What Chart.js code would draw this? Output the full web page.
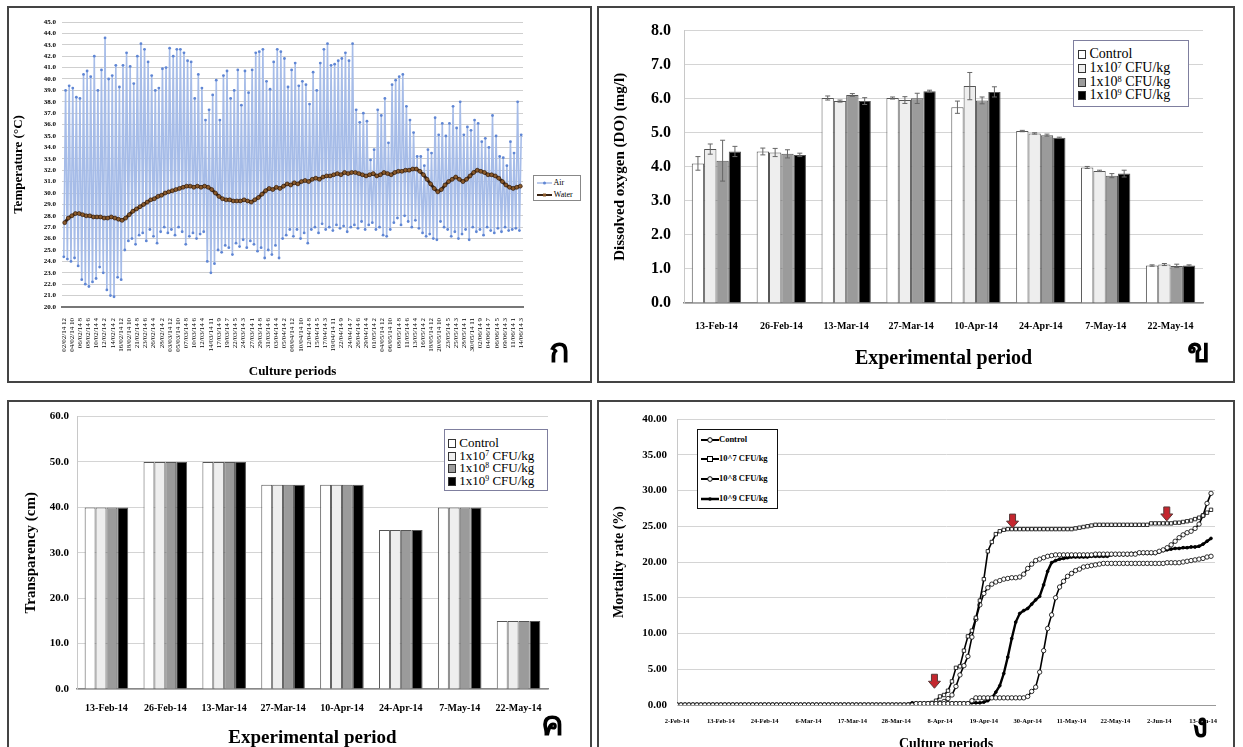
<!DOCTYPE html>
<html>
<head>
<meta charset="utf-8">
<script src="https://cdn.jsdelivr.net/npm/chart.js@4.4.0/dist/chart.umd.min.js"></script>
<style>
  body { margin: 0; background: #fff; width: 1243px; height: 747px; overflow: hidden; position: relative; font-family: "Liberation Serif", serif; }
  .panel { position: absolute; border: 2px solid #444; box-sizing: border-box; overflow: hidden; background: #fff; }
  .panel canvas { position: absolute; left: 0; top: 0; }
  .thai { position: absolute; font-family: "Noto Sans", "DejaVu Sans", sans-serif; font-weight: bold; line-height: 1; color: #000; }
  .legend { position: absolute; background: #fff; box-sizing: border-box; }
  .legend .row { position: absolute; left: 0; white-space: nowrap; line-height: 1; }
  .legend .sq { display: inline-block; border: 1px solid #333; box-sizing: border-box; vertical-align: -1px; }
  .legend sup { font-size: 60%; line-height: 0; vertical-align: 0.5em; }
</style>
</head>
<body>

<div class="panel" style="left:7px;top:6px;width:585px;height:377px;">
  <canvas id="cTemp" width="581" height="373"></canvas>
</div>
<div class="panel" style="left:597px;top:6px;width:638px;height:377px;">
  <canvas id="cDO" width="634" height="373"></canvas>
</div>
<div class="panel" style="left:7px;top:400px;width:585px;height:360px;">
  <canvas id="cTrans" width="581" height="356"></canvas>
</div>
<div class="panel" style="left:597px;top:400px;width:638px;height:360px;">
  <canvas id="cMort" width="634" height="356"></canvas>
</div>

<!-- legends -->
<div class="legend" style="left:533px;top:175px;width:48px;height:26px;border:1px solid #888;font-size:8px;">
  <div class="row" style="top:3px;left:3px;"><svg width="15" height="6" style="vertical-align:middle"><line x1="0" y1="3" x2="15" y2="3" stroke="#8fa9e0" stroke-width="1.2"/><circle cx="7.5" cy="3" r="1.5" fill="#5f86d4"/></svg> Air</div>
  <div class="row" style="top:15px;left:3px;"><svg width="15" height="6" style="vertical-align:middle"><line x1="0" y1="3" x2="15" y2="3" stroke="#3a2312" stroke-width="2"/><rect x="6" y="1.5" width="3" height="3" fill="#8a5a2b"/></svg> Water</div>
</div>

<div class="legend" style="left:1073px;top:40px;width:116px;height:67px;border:1px solid #7f7f9f;font-size:14px;">
  <div class="row" style="top:6px;left:4px;"><span class="sq" style="width:8px;height:9px;background:#fff;"></span> Control</div>
  <div class="row" style="top:20px;left:4px;"><span class="sq" style="width:8px;height:9px;background:#eee;"></span> 1x10<sup>7</sup> CFU/kg</div>
  <div class="row" style="top:34px;left:4px;"><span class="sq" style="width:8px;height:9px;background:#9b9b9b;"></span> 1x10<sup>8</sup> CFU/kg</div>
  <div class="row" style="top:47px;left:4px;"><span class="sq" style="width:8px;height:9px;background:#000;"></span> 1x10<sup>9</sup> CFU/kg</div>
</div>

<div class="legend" style="left:444px;top:429px;width:104px;height:62px;border:1px solid #7f7f9f;font-size:13px;">
  <div class="row" style="top:6px;left:3px;"><span class="sq" style="width:8px;height:9px;background:#fff;"></span> Control</div>
  <div class="row" style="top:19px;left:3px;"><span class="sq" style="width:8px;height:9px;background:#eee;"></span> 1x10<sup>7</sup> CFU/kg</div>
  <div class="row" style="top:31px;left:3px;"><span class="sq" style="width:8px;height:9px;background:#9b9b9b;"></span> 1x10<sup>8</sup> CFU/kg</div>
  <div class="row" style="top:44px;left:3px;"><span class="sq" style="width:8px;height:9px;background:#000;"></span> 1x10<sup>9</sup> CFU/kg</div>
</div>

<div class="legend" style="left:697px;top:429px;width:81px;height:80px;border:1.5px solid #111;font-size:8.5px;font-weight:bold;">
  <div class="row" style="top:5px;left:3px;"><svg width="18" height="8" style="vertical-align:middle"><line x1="0" y1="4" x2="18" y2="4" stroke="#000" stroke-width="2"/><circle cx="9" cy="4" r="2.3" fill="#fff" stroke="#000"/></svg>Control</div>
  <div class="row" style="top:24px;left:3px;"><svg width="18" height="8" style="vertical-align:middle"><line x1="0" y1="4" x2="18" y2="4" stroke="#000" stroke-width="2"/><rect x="6.5" y="1.5" width="5" height="5" fill="#fff" stroke="#000"/></svg>10^7 CFU/kg</div>
  <div class="row" style="top:44px;left:3px;"><svg width="18" height="8" style="vertical-align:middle"><line x1="0" y1="4" x2="18" y2="4" stroke="#000" stroke-width="2"/><circle cx="9" cy="4" r="2.3" fill="#fff" stroke="#000"/></svg>10^8 CFU/kg</div>
  <div class="row" style="top:64px;left:3px;"><svg width="18" height="8" style="vertical-align:middle"><line x1="0" y1="4" x2="18" y2="4" stroke="#000" stroke-width="2.5"/><circle cx="9" cy="4" r="1.8" fill="#000"/></svg>10^9 CFU/kg</div>
</div>

<span class="thai" style="left:549px;top:332px;font-size:34px;">ก</span>
<span class="thai" style="left:1187px;top:332px;font-size:34px;">ข</span>
<span class="thai" style="left:541px;top:705px;font-size:34px;">ค</span>
<span class="thai" style="left:1192px;top:708px;font-size:33px;">ง</span>

<script>
// ---- panel ก : air / water temperature ----
const tempTicks = [
  "02/02/14 12", "04/02/14 10", "06/02/14 8", "08/02/14 6", "10/02/14 4", "12/02/14 2", "14/02/14 2",
  "16/02/14 12", "18/02/14 10", "21/02/14 8", "23/02/14 6", "26/02/14 4", "28/02/14 2", "03/03/14 12",
  "05/03/14 10", "07/03/14 8", "10/03/14 6", "12/03/14 4", "14/03/14 11", "17/03/14 9", "19/03/14 7",
  "22/03/14 5", "24/03/14 3", "27/03/14 1", "29/03/14 8", "31/03/14 6", "03/04/14 4", "05/04/14 2",
  "08/04/14 12", "10/04/14 10", "12/04/14 8", "15/04/14 5", "17/04/14 3", "19/04/14 11", "22/04/14 9",
  "24/04/14 7", "26/04/14 6", "29/04/14 4", "01/05/14 2", "04/05/14 12", "06/05/14 10", "08/05/14 8",
  "11/05/14 6", "13/05/14 4", "16/05/14 2", "18/05/14 12", "20/05/14 10", "23/05/14 5", "25/05/14 3",
  "28/05/14 1", "30/05/14 11", "02/06/14 9", "04/06/14 7", "06/06/14 5", "09/06/14 3", "11/06/14 1",
  "14/06/14 3"
];

// daily highs of air temperature
const airMax = [
  39.0, 39.4, 39.2, 38.4, 38.3, 40.4, 40.7, 40.2, 42.0, 39.0, 40.8, 43.6, 40.0, 40.3, 41.2, 39.3,
  41.2, 42.3, 41.1, 39.6, 42.0, 43.1, 42.6, 41.5, 40.3, 39.0, 39.2, 40.9, 41.0, 42.7, 42.0, 42.6,
  42.6, 42.3, 41.6, 41.5, 38.3, 40.4, 39.2, 36.4, 37.3,
  38.6, 39.9, 36.4, 40.3, 40.7, 38.3, 39.0, 40.8, 37.7, 40.7, 38.8, 40.8, 42.3, 42.4, 42.6, 39.8,
  39.1, 41.5, 42.6, 42.4, 41.8, 39.3, 40.8, 41.4, 39.4, 39.8, 39.5, 37.8, 40.6, 39.0, 41.4, 42.6,
  43.1, 41.2, 41.3, 41.6, 41.8, 42.3, 41.6, 43.1,
  37.3, 36.2, 37.0, 36.3, 32.9, 33.8, 37.3, 36.8, 38.3, 34.4, 39.5, 39.9, 40.2, 40.4, 37.6, 36.4,
  35.3, 33.2, 33.2, 32.4, 33.8, 33.5, 36.6, 35.1, 36.1, 35.0, 36.1, 37.6, 35.7, 38.0, 35.1, 35.8,
  35.5, 36.4, 36.1, 34.5, 34.8, 34.0, 36.8, 35.0, 33.2, 33.1, 32.4, 34.5, 33.5, 38.0, 35.1
];

// daily lows of air temperature
const airMin = [
  24.4, 24.2, 24.0, 24.3, 23.6, 22.4, 22.0, 21.8, 22.2, 22.5, 23.5, 23.0, 21.5, 21.0, 20.9, 22.6,
  22.4, 25.0, 25.8, 26.0, 25.5, 26.3, 26.5, 25.8, 26.8, 26.2, 25.6, 26.6, 27.0, 26.5, 26.8, 26.3,
  27.0, 26.6, 25.5, 26.2, 26.5, 26.0, 26.4, 26.6, 24.0, 23.0, 23.8, 25.0, 24.8, 25.4, 25.2, 24.6,
  25.6, 25.3, 25.9, 25.2, 25.8, 25.5, 24.9, 25.2, 24.3, 25.0, 24.6, 25.4, 24.3, 26.0, 26.3, 26.8,
  26.2, 26.8, 26.0, 26.5, 25.6, 26.8, 27.0, 26.5, 27.3, 26.8, 27.0, 26.7, 27.2, 26.9, 27.1, 26.6,
  27.0, 27.2, 26.9, 27.5, 26.8, 27.2, 27.4, 26.8, 27.0, 26.3, 26.2, 26.8, 27.4, 27.8, 27.2, 28.0,
  27.5, 27.0, 27.6, 26.9, 26.5, 26.2, 26.4, 26.0, 25.9, 27.5, 27.0, 26.8, 26.2, 26.6, 26.0, 26.4,
  26.8, 25.9, 27.0, 26.6, 26.8, 26.3, 27.0, 26.7, 26.5, 26.9, 26.6, 27.0, 26.7, 26.8, 26.9, 26.7
];

// daily water temperature
const water = [
  27.4, 27.8, 28.0, 28.2, 28.2, 28.1, 28.0, 28.0, 27.9, 27.9,
  27.9, 27.8, 27.8, 27.9, 27.8, 27.7, 27.6, 27.8, 28.1, 28.4,
  28.6, 28.8, 29.0, 29.2, 29.4, 29.5, 29.7, 29.8, 30.0, 30.1,
  30.2, 30.3, 30.4, 30.5, 30.6, 30.6, 30.5, 30.6, 30.5, 30.6,
  30.5, 30.3, 30.0, 29.7, 29.5, 29.4, 29.4, 29.3, 29.3, 29.3,
  29.4, 29.3, 29.2, 29.4, 29.6, 29.9, 30.2, 30.4, 30.3, 30.5,
  30.4, 30.6, 30.8, 30.7, 30.9, 30.8, 31.0, 31.1, 31.0, 31.2,
  31.3, 31.2, 31.4, 31.5, 31.5, 31.6, 31.7, 31.6, 31.8, 31.7,
  31.8, 31.8, 31.7, 31.6, 31.5, 31.6, 31.7, 31.5, 31.6, 31.8,
  31.7, 31.6, 31.8, 31.9, 31.9, 32.0, 32.0, 32.1, 32.1, 31.9,
  31.6, 31.2, 30.8, 30.4, 30.1, 30.3, 30.7, 31.0, 31.2, 31.4,
  31.2, 31.0, 31.2, 31.5, 31.8, 32.0, 31.9, 31.8, 31.6, 31.6,
  31.5, 31.3, 31.0, 30.7, 30.5, 30.4, 30.5, 30.6
];

// ---- panels ข / ค : sampling dates ----
const periods = ["13-Feb-14", "26-Feb-14", "13-Mar-14", "27-Mar-14", "10-Apr-14", "24-Apr-14", "7-May-14", "22-May-14"];
const groupNames = ["Control", "1x10⁷ CFU/kg", "1x10⁸ CFU/kg", "1x10⁹ CFU/kg"];
const groupColors = ["#ffffff", "#eeeeee", "#9b9b9b", "#000000"];

const doControl = [4.10, 4.45, 6.02, 6.02, 5.75, 5.05, 3.98, 1.10];
const doE7      = [4.52, 4.42, 5.93, 5.96, 6.37, 4.98, 3.88, 1.13];
const doE8      = [4.18, 4.38, 6.11, 6.01, 5.95, 4.93, 3.74, 1.09];
const doE9      = [4.45, 4.35, 5.93, 6.22, 6.20, 4.85, 3.80, 1.10];
const doSdControl = [0.20, 0.10, 0.06, 0.03, 0.18, 0.02, 0.03, 0.02];
const doSdE7      = [0.15, 0.12, 0.03, 0.10, 0.40, 0.02, 0.02, 0.03];
const doSdE8      = [0.60, 0.12, 0.04, 0.15, 0.10, 0.03, 0.06, 0.05];
const doSdE9      = [0.15, 0.05, 0.10, 0.03, 0.15, 0.02, 0.10, 0.02];

const trControl = [40, 50, 50, 45, 45, 35, 40, 15];
const trE7      = [40, 50, 50, 45, 45, 35, 40, 15];
const trE8      = [40, 50, 50, 45, 45, 35, 40, 15];
const trE9      = [40, 50, 50, 45, 45, 35, 40, 15];

// ---- panel ง : cumulative mortality, one value per day from 2-Feb-14 ----
const mortTicks = ["2-Feb-14", "13-Feb-14", "24-Feb-14", "6-Mar-14", "17-Mar-14", "28-Mar-14", "8-Apr-14",
  "19-Apr-14", "30-Apr-14", "11-May-14", "22-May-14", "2-Jun-14", "13-Jun-14"];

const mortControl = [
  0, 0, 0, 0, 0, 0, 0, 0, 0, 0, 0, 0, 0, 0, 0, 0, 0, 0, 0, 0,
  0, 0, 0, 0, 0, 0, 0, 0, 0, 0, 0, 0, 0, 0, 0, 0, 0, 0, 0, 0,
  0, 0, 0, 0, 0, 0, 0, 0, 0, 0, 0, 0, 0, 0, 0, 0, 0, 0, 0, 0,
  0.2, 0.2, 0.2, 0.2, 0.2, 0.2, 0.2, 0.2, 0.2, 0.2, 0.2, 0.2, 0.2, 0.2, 0.6,
  1.0, 1.0, 1.0, 1.0, 1.0, 1.0, 1.0, 1.0, 1.0, 1.0, 1.0, 1.0, 1.0,
  1.2, 1.9, 2.5, 4.6, 7.6, 10.7, 12.6, 15.0, 16.5, 17.3, 18.0, 18.4, 18.8, 19.0, 19.3, 19.4, 19.5, 19.6, 19.7,
  19.8, 19.8, 19.8, 19.8, 19.8, 19.8, 19.8, 19.8, 19.8, 19.8, 19.8, 19.8, 19.8, 19.8, 19.8, 19.8,
  19.9, 19.9, 19.9, 19.9, 20.0, 20.1, 20.2, 20.3, 20.4, 20.5, 20.7, 20.8
];
const mortE7 = [
  0, 0, 0, 0, 0, 0, 0, 0, 0, 0, 0, 0, 0, 0, 0, 0, 0, 0, 0, 0,
  0, 0, 0, 0, 0, 0, 0, 0, 0, 0, 0, 0, 0, 0, 0, 0, 0, 0, 0, 0,
  0, 0, 0, 0, 0, 0, 0, 0, 0, 0, 0, 0, 0, 0, 0, 0, 0, 0, 0, 0, 0, 0,
  0.1, 0.2, 0.3, 0.6, 1.2, 1.4, 2.0, 3.3, 5.2, 5.4, 7.6, 9.6, 10.4, 12.2, 14.6, 17.6, 21.5, 22.8, 23.9, 24.3, 24.5,
  24.6, 24.6, 24.6, 24.6, 24.6, 24.6, 24.6, 24.6, 24.6, 24.6, 24.6, 24.6, 24.6, 24.6, 24.6, 24.6, 24.6,
  24.7, 24.8, 24.9, 25.0, 25.1,
  25.2, 25.2, 25.2, 25.2, 25.2, 25.2, 25.2, 25.2, 25.2, 25.2, 25.2, 25.2, 25.2, 25.2,
  25.4, 25.4, 25.4, 25.4, 25.4, 25.4,
  25.5, 25.5, 25.6, 25.7, 25.8, 26.0, 26.2, 26.5, 26.9, 27.3
];
const mortE8 = [
  0, 0, 0, 0, 0, 0, 0, 0, 0, 0, 0, 0, 0, 0, 0, 0, 0, 0, 0, 0,
  0, 0, 0, 0, 0, 0, 0, 0, 0, 0, 0, 0, 0, 0, 0, 0, 0, 0, 0, 0,
  0, 0, 0, 0, 0, 0, 0, 0, 0, 0, 0, 0, 0, 0, 0, 0, 0, 0, 0, 0, 0, 0, 0, 0, 0,
  0.2, 0.3, 0.5, 0.9, 1.4, 2.6, 4.2, 5.5, 6.8, 9.5, 12.0, 14.0, 15.6, 16.4, 16.9, 17.2, 17.4, 17.6, 17.7, 17.8,
  17.8, 17.9, 18.3, 19.1, 19.7, 20.2, 20.4, 20.6, 20.8, 20.9,
  21.0, 21.0, 21.0, 21.0, 21.0, 21.0, 21.0, 21.0, 21.0, 21.0,
  21.1, 21.1, 21.1, 21.1, 21.1, 21.1, 21.1, 21.1, 21.1, 21.1, 21.1,
  21.3, 21.3, 21.3, 21.3, 21.3,
  21.5, 21.7, 22.0, 22.4, 22.9, 23.4, 23.8, 24.1, 24.3, 24.7, 25.3, 26.5, 28.2, 29.6
];
const mortE9 = [
  0, 0, 0, 0, 0, 0, 0, 0, 0, 0, 0, 0, 0, 0, 0, 0, 0, 0, 0, 0,
  0, 0, 0, 0, 0, 0, 0, 0, 0, 0, 0, 0, 0, 0, 0, 0, 0, 0, 0, 0,
  0, 0, 0, 0, 0, 0, 0, 0, 0, 0, 0, 0, 0, 0, 0, 0, 0, 0,
  0.1,
  0.3, 0.3, 0.3, 0.3, 0.3, 0.3, 0.3, 0.3, 0.3, 0.3, 0.3, 0.3, 0.3, 0.3, 0.3, 0.3, 0.3, 0.3,
  0.4, 0.6, 1.0, 1.8, 2.7, 4.4, 6.7, 9.3, 11.6, 12.8, 13.2, 13.5, 14.1, 14.7, 15.2, 16.8, 18.7, 19.9, 20.2, 20.4, 20.5, 20.6,
  20.7, 20.7, 20.7, 20.7, 20.7,
  20.8, 20.8, 20.8, 20.8, 20.8,
  21.0, 21.0, 21.0, 21.0, 21.0,
  21.2, 21.2, 21.2, 21.2, 21.2, 21.2, 21.2,
  21.4, 21.6, 21.7, 21.8, 21.9, 21.9, 22.0, 22.0, 22.1, 22.1, 22.2, 22.5, 22.9, 23.3
];

// red arrows (day index, value at top of arrow)
const arrowDays = [64.6, 84.2, 122.9];
const arrowTops = [4.3, 26.7, 27.7];

Chart.defaults.font.family = '"Liberation Serif", "Times New Roman", serif';
Chart.defaults.color = '#000';
Chart.defaults.animation = false;
Chart.defaults.responsive = false;
Chart.defaults.plugins.legend.display = false;
Chart.defaults.plugins.tooltip.enabled = false;

const errorBars = {
  id: 'errorBars',
  afterDatasetsDraw(chart, args, opts) {
    if (!opts.sd) return;
    const ctx = chart.ctx;
    const y = chart.scales.y;
    ctx.save();
    ctx.strokeStyle = '#666';
    ctx.lineWidth = 1;
    chart.data.datasets.forEach((ds, i) => {
      chart.getDatasetMeta(i).data.forEach((bar, j) => {
        const v = ds.data[j], e = opts.sd[i][j];
        const top = y.getPixelForValue(v + e), bot = y.getPixelForValue(v - e);
        ctx.beginPath();
        ctx.moveTo(bar.x, top); ctx.lineTo(bar.x, bot);
        ctx.moveTo(bar.x - 2.5, top); ctx.lineTo(bar.x + 2.5, top);
        ctx.moveTo(bar.x - 2.5, bot); ctx.lineTo(bar.x + 2.5, bot);
        ctx.stroke();
      });
    });
    ctx.restore();
  }
};

const redArrows = {
  id: 'redArrows',
  afterDatasetsDraw(chart) {
    const ctx = chart.ctx, xs = chart.scales.x, ys = chart.scales.y;
    ctx.save();
    arrowDays.forEach((d, i) => {
      const x = xs.getPixelForValue(d), y = ys.getPixelForValue(arrowTops[i]);
      ctx.beginPath();
      ctx.moveTo(x - 3, y); ctx.lineTo(x + 3, y); ctx.lineTo(x + 3, y + 7);
      ctx.lineTo(x + 6, y + 7); ctx.lineTo(x, y + 14); ctx.lineTo(x - 6, y + 7);
      ctx.lineTo(x - 3, y + 7); ctx.closePath();
      ctx.fillStyle = '#c4262e';
      ctx.fill();
      ctx.strokeStyle = '#5a3a3a';
      ctx.lineWidth = 1;
      ctx.stroke();
    });
    ctx.restore();
  }
};

// panel ก
new Chart(document.getElementById('cTemp'), {
  type: 'line',
  data: {
    datasets: [
      {
        label: 'Water',
        data: water.map((v, d) => ({ x: d + 0.25, y: v })),
        order: 0,
        borderColor: '#3a2312',
        borderWidth: 3,
        pointRadius: 2,
        pointBackgroundColor: '#8a5a2b',
        pointBorderColor: '#2a1608',
        pointBorderWidth: 0.6
      },
      {
        label: 'Air',
        data: airMin.flatMap((lo, d) => [{ x: d, y: lo }, { x: d + 0.5, y: airMax[d] }]),
        order: 1,
        borderColor: '#a6bce8',
        borderWidth: 1.6,
        pointRadius: 1.4,
        pointBackgroundColor: '#5f86d4',
        pointBorderWidth: 0
      }
    ]
  },
  options: {
    layout: { padding: { left: 0, right: 67, top: 14, bottom: 2 } },
    scales: {
      x: {
        type: 'linear', min: -0.5, max: 128,
        afterBuildTicks: ax => { ax.ticks = tempTicks.map((t, i) => ({ value: i * 127.5 / (tempTicks.length - 1) })); },
        afterFit: ax => { ax.height = 72; },
        ticks: { autoSkip: false, maxRotation: 90, minRotation: 90, padding: 3, font: { size: 7 },
                 callback: (v, i) => tempTicks[i] },
        grid: { display: false },
        border: { color: '#777', width: 2 },
        title: { display: true, text: 'Culture periods', font: { size: 13, weight: 'bold' }, padding: { top: 4, bottom: 0 } }
      },
      y: {
        min: 20, max: 45,
        afterFit: ax => { ax.width = 53; },
        ticks: { stepSize: 1, padding: 6, font: { size: 7, weight: 'bold' }, callback: v => v.toFixed(1) },
        grid: { color: '#cfcfcf', drawTicks: false },
        border: { display: false },
        title: { display: true, text: 'Temperature (°C)', font: { size: 13, weight: 'bold' }, padding: { top: 2, bottom: 0 } }
      }
    }
  }
});

function barSets(values) {
  return values.map((vals, i) => ({
    label: groupNames[i],
    data: vals,
    backgroundColor: groupColors[i],
    borderColor: '#555',
    borderWidth: 1
  }));
}

// panel ข
new Chart(document.getElementById('cDO'), {
  type: 'bar',
  data: { labels: periods, datasets: barSets([doControl, doE7, doE8, doE9]) },
  plugins: [errorBars],
  options: {
    categoryPercentage: 0.76,
    barPercentage: 1.0,
    layout: { padding: { left: 0, right: 30, top: 21, bottom: 10 } },
    plugins: { errorBars: { sd: [doSdControl, doSdE7, doSdE8, doSdE9] } },
    scales: {
      x: {
        afterFit: ax => { ax.height = 68; },
        ticks: { maxRotation: 0, padding: 9, font: { size: 10, weight: 'bold' } },
        grid: { display: false },
        border: { color: '#888', width: 1.5 },
        title: { display: true, text: 'Experimental period', font: { size: 20, weight: 'bold' }, padding: { top: 4, bottom: 0 } }
      },
      y: {
        min: 0, max: 8,
        afterFit: ax => { ax.width = 85; },
        ticks: { stepSize: 1, padding: 13, font: { size: 16, weight: 'bold' }, callback: v => v.toFixed(1) },
        grid: { color: '#d4d4d4', drawTicks: false },
        border: { color: '#c8c8c8' },
        title: { display: true, text: 'Dissolved oxygen (DO) (mg/l)', font: { size: 15, weight: 'bold' }, padding: { top: 12, bottom: 0 } }
      }
    }
  }
});

// panel ค
new Chart(document.getElementById('cTrans'), {
  type: 'bar',
  data: { labels: periods, datasets: barSets([trControl, trE7, trE8, trE9]) },
  options: {
    categoryPercentage: 0.74,
    barPercentage: 1.0,
    layout: { padding: { left: 0, right: 42, top: 13, bottom: 9 } },
    scales: {
      x: {
        afterFit: ax => { ax.height = 60; },
        ticks: { maxRotation: 0, padding: 5, font: { size: 10, weight: 'bold' } },
        grid: { display: false },
        border: { color: '#888', width: 1.5 },
        title: { display: true, text: 'Experimental period', font: { size: 19, weight: 'bold' }, padding: { top: 4, bottom: 0 } }
      },
      y: {
        min: 0, max: 60,
        afterFit: ax => { ax.width = 68; },
        ticks: { stepSize: 10, padding: 8, font: { size: 11, weight: 'bold' }, callback: v => v.toFixed(1) },
        grid: { color: '#d4d4d4', drawTicks: false },
        border: { color: '#c8c8c8' },
        title: { display: true, text: 'Transparency (cm)', font: { size: 15, weight: 'bold' }, padding: { top: 13, bottom: 0 } }
      }
    }
  }
});

// panel ง
function mortSet(label, vals, style, radius, fill, width) {
  return {
    label: label,
    data: vals.map((v, d) => ({ x: d, y: v })),
    borderColor: '#000',
    borderWidth: width,
    pointStyle: style,
    pointRadius: radius,
    pointBackgroundColor: fill,
    pointBorderColor: '#000',
    pointBorderWidth: 0.8
  };
}

new Chart(document.getElementById('cMort'), {
  type: 'line',
  data: {
    datasets: [
      mortSet('Control', mortControl, 'circle', 2.2, '#fff', 1.6),
      mortSet('10^7 CFU/kg', mortE7, 'rect', 2.4, '#fff', 1.6),
      mortSet('10^8 CFU/kg', mortE8, 'circle', 2.2, '#fff', 1.6),
      mortSet('10^9 CFU/kg', mortE9, 'circle', 1.4, '#000', 2.4)
    ]
  },
  plugins: [redArrows],
  options: {
    layout: { padding: { left: 0, right: 18, top: 17, bottom: 5 } },
    scales: {
      x: {
        type: 'linear', min: 0, max: 135,
        afterFit: ax => { ax.height = 48; },
        ticks: { stepSize: 11, includeBounds: false, autoSkip: false, maxRotation: 0, padding: 4,
                 font: { size: 6.5, weight: 'bold' }, callback: v => mortTicks[Math.round(v / 11)] },
        grid: { display: false },
        border: { color: '#999' },
        title: { display: true, text: 'Culture periods', font: { size: 14, weight: 'bold' }, padding: { top: 4, bottom: 0 } }
      },
      y: {
        min: 0, max: 40,
        afterFit: ax => { ax.width = 78; },
        ticks: { stepSize: 5, padding: 10, font: { size: 11, weight: 'bold' }, callback: v => v.toFixed(2) },
        grid: { color: '#d4d4d4', drawTicks: false },
        border: { color: '#c8c8c8' },
        title: { display: true, text: 'Mortality rate (%)', font: { size: 14, weight: 'bold' }, padding: { top: 12, bottom: 0 } }
      }
    }
  }
});
</script>
</body>
</html>
